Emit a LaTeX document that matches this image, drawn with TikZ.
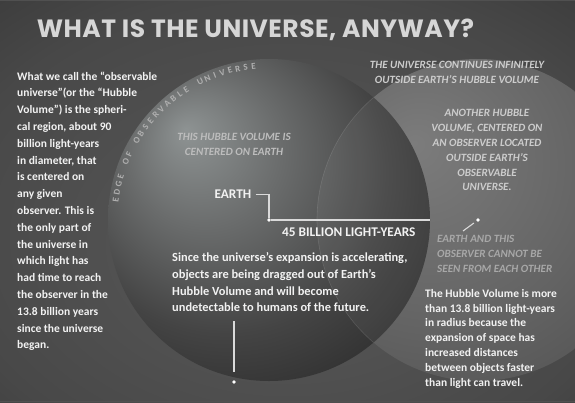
\documentclass[tikz,border=0pt]{standalone}
\usepackage{fontspec}
\setmainfont{Carlito}
\newfontfamily\titlefont[LetterSpace=2]{Poppins}
\usetikzlibrary{calc}
\definecolor{bg0}{HTML}{5A5A5A}
\definecolor{bg1}{HTML}{484848}
\definecolor{bg2}{HTML}{2E2E2E}
\definecolor{bg3}{HTML}{1C1C1C}
\definecolor{sA0}{HTML}{8E9393}
\definecolor{sA1}{HTML}{6A6C6C}
\definecolor{sA2}{HTML}{444444}
\definecolor{sA3}{HTML}{262626}
\definecolor{sA4}{HTML}{1A1A1A}
\definecolor{sB0}{HTML}{7C7C7C}
\definecolor{sB1}{HTML}{636363}
\definecolor{sB2}{HTML}{4C4C4C}
\definecolor{sB3}{HTML}{3C3C3C}
\definecolor{bodyc}{HTML}{F2F2F2}
\definecolor{titlec}{HTML}{D6D6D6}
\definecolor{capc}{HTML}{CDCDCD}
\definecolor{cape}{HTML}{BDBDBD}
\definecolor{capd}{HTML}{A8A8A8}
\definecolor{edgec}{HTML}{B0B0B0}
\definecolor{linec}{HTML}{DADADA}
\definecolor{framec}{HTML}{505050}
\pgfdeclareradialshading{bgshade}{\pgfpoint{0bp}{-7bp}}{color(0bp)=(bg0); color(30bp)=(bg1); color(50bp)=(bg2); color(70bp)=(bg3)}
\pgfdeclareradialshading{sphA}{\pgfpoint{-13bp}{14bp}}{color(0bp)=(sA0); color(12bp)=(sA1); color(25bp)=(sA2); color(39bp)=(sA3); color(52bp)=(sA4)}
\pgfdeclareradialshading{sphB}{\pgfpoint{-10bp}{12bp}}{color(0bp)=(sB0); color(25bp)=(sB1); color(45bp)=(sB2); color(70bp)=(sB3)}
\tikzset{
  body/.style={text=bodyc, font=\fontsize{11.5}{16.8}\selectfont\bfseries, inner sep=0pt, align=left},
  capit/.style={text=capc, font=\fontsize{11.1}{14.8}\selectfont\bfseries\itshape, inner sep=0pt, align=center},
  conn/.style={draw=linec, line width=1.1pt},
  dotnode/.style={circle, fill=white, inner sep=0pt, minimum size=3.8pt},
  edgelet/.style={text=edgec, font=\fontsize{9}{11}\selectfont\bfseries, inner sep=0pt},
  titlestyle/.style={text=titlec, font=\titlefont\bfseries\fontsize{25}{29}\selectfont, inner sep=0pt}
}
\begin{document}
\begin{tikzpicture}[x=1pt,y=-1pt]
\useasboundingbox (0,0) rectangle (575,402);
\clip (0,0) rectangle (575,402);
\shade[shading=bgshade] (0,0) rectangle (575,402);
\coordinate (E) at (269,220);
\coordinate (O) at (478,220);
% another Hubble volume
\shade[shading=sphB] (O) circle[radius=161];
% Earth's Hubble volume
\shade[shading=sphA] (E) circle[radius=161];
\begin{scope}
  \clip (E) circle[radius=161];
  \fill[white, fill opacity=0.05] (O) circle[radius=161];
  \draw[white, draw opacity=0.12, line width=0.6pt] (O) circle[radius=161];
\end{scope}
\draw[framec, line width=1pt] (0,0.5) -- (575,0.5) (0,401) -- (575,401);
% title
\node[titlestyle] (title) at (255.5,30) {WHAT IS THE UNIVERSE, ANYWAY?};
% left paragraph
\node[body, anchor=north west] (leftpar) at (17,71.5) {What we call the “observable\\universe”(or the “Hubble\\Volume”) is the spheri-\\cal region, about 90\\billion light-years\\in diameter, that\\is centered on\\any given\\observer. This is\\the only part of\\the universe in\\which light has\\had time to reach\\the observer in the\\13.8 billion years\\since the universe\\began.};
% center paragraph
\node[body, font=\fontsize{12.4}{16.7}\selectfont\bfseries, anchor=north west] (midpar) at (172,252.5) {Since the universe’s expansion is accelerating,\\objects are being dragged out of Earth’s\\Hubble Volume and will become\\undetectable to humans of the future.};
% right paragraph
\node[body, font=\fontsize{11.5}{14.8}\selectfont\bfseries, anchor=north west] (rightpar) at (425,289) {The Hubble Volume is more\\than 13.8 billion light-years\\in radius because the\\expansion of space has\\increased distances\\between objects faster\\than light can travel.};
% italic captions
\node[capit, text=cape, anchor=north] (thishv) at (234,133.5) {THIS HUBBLE VOLUME IS\\CENTERED ON EARTH};
\node[capit, font=\fontsize{11.1}{14.5}\selectfont\bfseries\itshape, anchor=north] (continues) at (457,61.5) {THE UNIVERSE CONTINUES INFINITELY\\OUTSIDE EARTH'S HUBBLE VOLUME};
\node[capit, anchor=north] (another) at (487,109.5) {ANOTHER HUBBLE\\VOLUME, CENTERED ON\\AN OBSERVER LOCATED\\OUTSIDE EARTH'S\\OBSERVABLE\\UNIVERSE.};
\node[capit, text=capd, align=left, font=\fontsize{11.1}{14.6}\selectfont\bfseries\itshape, anchor=north west] (cannot) at (437,235.5) {EARTH AND THIS\\OBSERVER CANNOT BE\\SEEN FROM EACH OTHER};
% labels
\node[body, font=\fontsize{13.3}{16}\selectfont\bfseries, anchor=base east] (earthtxt) at (251.5,198.5) {EARTH};
\node[body, font=\fontsize{13.3}{16}\selectfont\bfseries, anchor=base west] (dist) at (282,236.5) {45 BILLION LIGHT-YEARS};
% dots and connectors
\node[dotnode] (edot) at (E) {};
\node[dotnode] (odot) at (O) {};
\node[dotnode] (bdot) at (234,382) {};
\coordinate (hend) at (430,220);
\coordinate (olineA) at (463,231);
\coordinate (btop) at (234,321);
\draw[conn] ([xshift=4pt]earthtxt.east) -| (edot);
\draw[conn] (edot.east) -- (hend);
\draw[conn, shorten <=3pt] (odot) -- (olineA);
\draw[conn, shorten <=8pt] (bdot) -- (btop);
% edge of observable universe
\foreach \ch [count=\i from 0] in {E,D,G,E,{},O,F,{},O,B,S,E,R,V,A,B,L,E,{},U,N,I,V,E,R,S,E}{
  \pgfmathsetmacro{\ang}{172.6-\i*2.954}
  \node[edgelet, rotate=\ang-90] (edge\i) at ({269+154.5*cos(\ang)},{220-154.5*sin(\ang)}) {\ch};
}
\end{tikzpicture}
\end{document}
